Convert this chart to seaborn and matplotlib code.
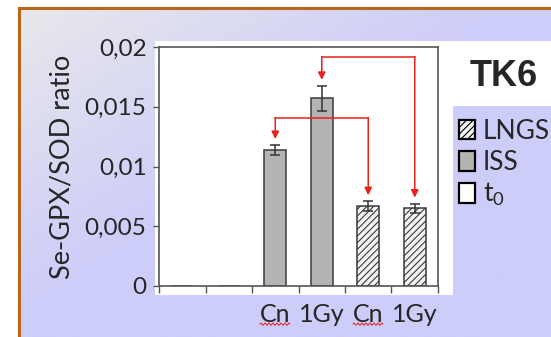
import matplotlib
matplotlib.use("Agg")
import matplotlib.pyplot as plt
import numpy as np
import pandas as pd
import seaborn as sns
from matplotlib.colors import to_rgb
from matplotlib.lines import Line2D
from matplotlib.patches import Patch, Rectangle
from matplotlib.transforms import IdentityTransform

# --- data ---------------------------------------------------------------
slots = ["t0_a", "t0_b", "iss_cn", "iss_1gy", "lngs_cn", "lngs_1gy"]
groups = ["t0", "t0", "ISS", "ISS", "LNGS", "LNGS"]
tick_labels = ["", "", "Cn", "1Gy", "Cn", "1Gy"]
ratio = [0.0, 0.0, 0.0114, 0.0157, 0.0067, 0.0065]
ratio_err = [0.0, 0.0, 0.0004, 0.00105, 0.0004, 0.0004]
y_ticks = [0, 0.005, 0.01, 0.015, 0.02]
y_tick_labels = ["0", "0,005", "0,01", "0,015", "0,02"]
legend_groups = ["LNGS", "ISS", "t0"]
legend_labels = ["LNGS", "ISS", r"t$_0$"]
# red arrows: (from bar, to bar, height of the bracket)
comparisons = [(2, 4, 0.0141), (3, 5, 0.0192)]

group_face = {"t0": "white", "ISS": "#b4b4b4", "LNGS": "#f2f2f2"}
group_hatch = {"t0": None, "ISS": None, "LNGS": "/////"}

W, H = 551, 337

sns.set_style("ticks")
plt.rcParams["font.family"] = ["Lato", "DejaVu Sans"]
plt.rcParams["mathtext.default"] = "regular"
plt.rcParams["hatch.linewidth"] = 0.8


def px(x0, y0, x1, y1):
    # pixel box (top-left origin) -> figure fraction rect
    return [x0 / W, 1 - y1 / H, (x1 - x0) / W, (y1 - y0) / H]


fig = plt.figure(figsize=(W / 100, H / 100), dpi=100)
fig.patch.set_facecolor("white")

# slide background: grey-to-lavender gradient inside an orange frame
bg = fig.add_axes(px(19, 8, W, H), zorder=-3)
xx, yy = np.meshgrid(np.linspace(0, 1, 200), np.linspace(0, 1, 200))
t = np.clip((xx + yy) * 1.1, 0, 1)[..., None]
c0, c1 = np.array(to_rgb("#e8e8eb")), np.array(to_rgb("#cdcdf9"))
bg.imshow(c0 + (c1 - c0) * t, extent=[0, 1, 0, 1], aspect="auto", origin="upper")
bg.set_xticks([])
bg.set_yticks([])
for side in ["right", "bottom"]:
    bg.spines[side].set_visible(False)
for side in ["left", "top"]:
    bg.spines[side].set_color("#b8661c")
    bg.spines[side].set_linewidth(2.2)

# white picture panels pasted on the slide
for box in [px(155, 41, 453, 295), px(453, 41, W, 106)]:
    fig.add_artist(Rectangle(box[:2], box[2], box[3], transform=fig.transFigure,
                             facecolor="white", edgecolor="none", zorder=-2))

ax = fig.add_axes(px(159, 47, 438, 286))
ax.set_facecolor("white")

df = pd.DataFrame({"slot": slots, "ratio": ratio, "group": groups})
sns.barplot(data=df, x="slot", y="ratio", order=slots, width=0.47,
            color="#b4b4b4", errorbar=None, ax=ax,
            edgecolor="#3a3a3a", linewidth=1.1)

centers = []
for bar, g in zip(ax.patches, groups):
    bar.set_facecolor(group_face[g])
    if group_hatch[g]:
        bar.set_hatch(group_hatch[g])
    centers.append(bar.get_x() + bar.get_width() / 2)
centers = np.array(centers)

ax.errorbar(centers[2:], ratio[2:], yerr=ratio_err[2:], fmt="none",
            ecolor="#333333", elinewidth=1.1, capsize=3.5, capthick=1.1)

red = "#e8201e"
for i, j, h in comparisons:
    ax.plot([centers[i], centers[j]], [h, h], color=red, lw=1.1)
    for k in (i, j):
        tip = ratio[k] + ratio_err[k] + 0.0005
        ax.annotate("", xy=(centers[k], tip), xytext=(centers[k], h),
                    arrowprops=dict(arrowstyle="-|>", color=red, lw=1.1,
                                    mutation_scale=11, shrinkA=0, shrinkB=0))

ax.set_xlim(-0.5, len(slots) - 0.5)
ax.set_ylim(0, 0.02)
ax.set_yticks(y_ticks)
ax.set_yticklabels(y_tick_labels, fontsize=17.5)
ax.set_xticks(range(len(slots)))
ax.set_xticklabels(tick_labels, fontsize=18)
ax.set_xticks(np.arange(-0.5, len(slots), 1), minor=True)
ax.tick_params(axis="x", which="major", length=0, pad=12)
ax.tick_params(axis="x", which="minor", length=5, width=1.0, color="#555555")
ax.tick_params(axis="y", length=4, width=1.0, color="#555555", pad=5)
ax.set_xlabel("")
ax.set_ylabel("Se-GPX/SOD ratio", fontsize=19.5, labelpad=7)
for side in ax.spines.values():
    side.set_visible(True)
    side.set_color("#555555")
    side.set_linewidth(1.2)

fig.text(504 / W, 1 - 76 / H, "TK6", family="Liberation Sans",
         fontweight="bold", fontsize=26, ha="center", va="center")

handles = [Patch(facecolor=group_face[g], edgecolor="black", linewidth=1.6,
                 hatch=group_hatch[g]) for g in legend_groups]
fig.legend(handles, legend_labels, loc="upper left",
           bbox_to_anchor=(459 / W, 1 - 119 / H), frameon=False, fontsize=19,
           handlelength=0.6, handleheight=0.75, handletextpad=0.3,
           labelspacing=0.23, borderpad=0, borderaxespad=0)

# spell-checker squiggle under the "Cn" labels
fig.canvas.draw()
for lab in ax.get_xticklabels():
    if lab.get_text() == "Cn":
        bb = lab.get_window_extent()
        xs = np.arange(bb.x0, bb.x1, 1.0)
        ys = bb.y0 + 1.5 + 1.2 * np.sin((xs - bb.x0) * np.pi / 2)
        fig.add_artist(Line2D(xs, ys, transform=IdentityTransform(),
                              color="#e8201e", lw=0.7))

fig.savefig("out.png", dpi=100)
